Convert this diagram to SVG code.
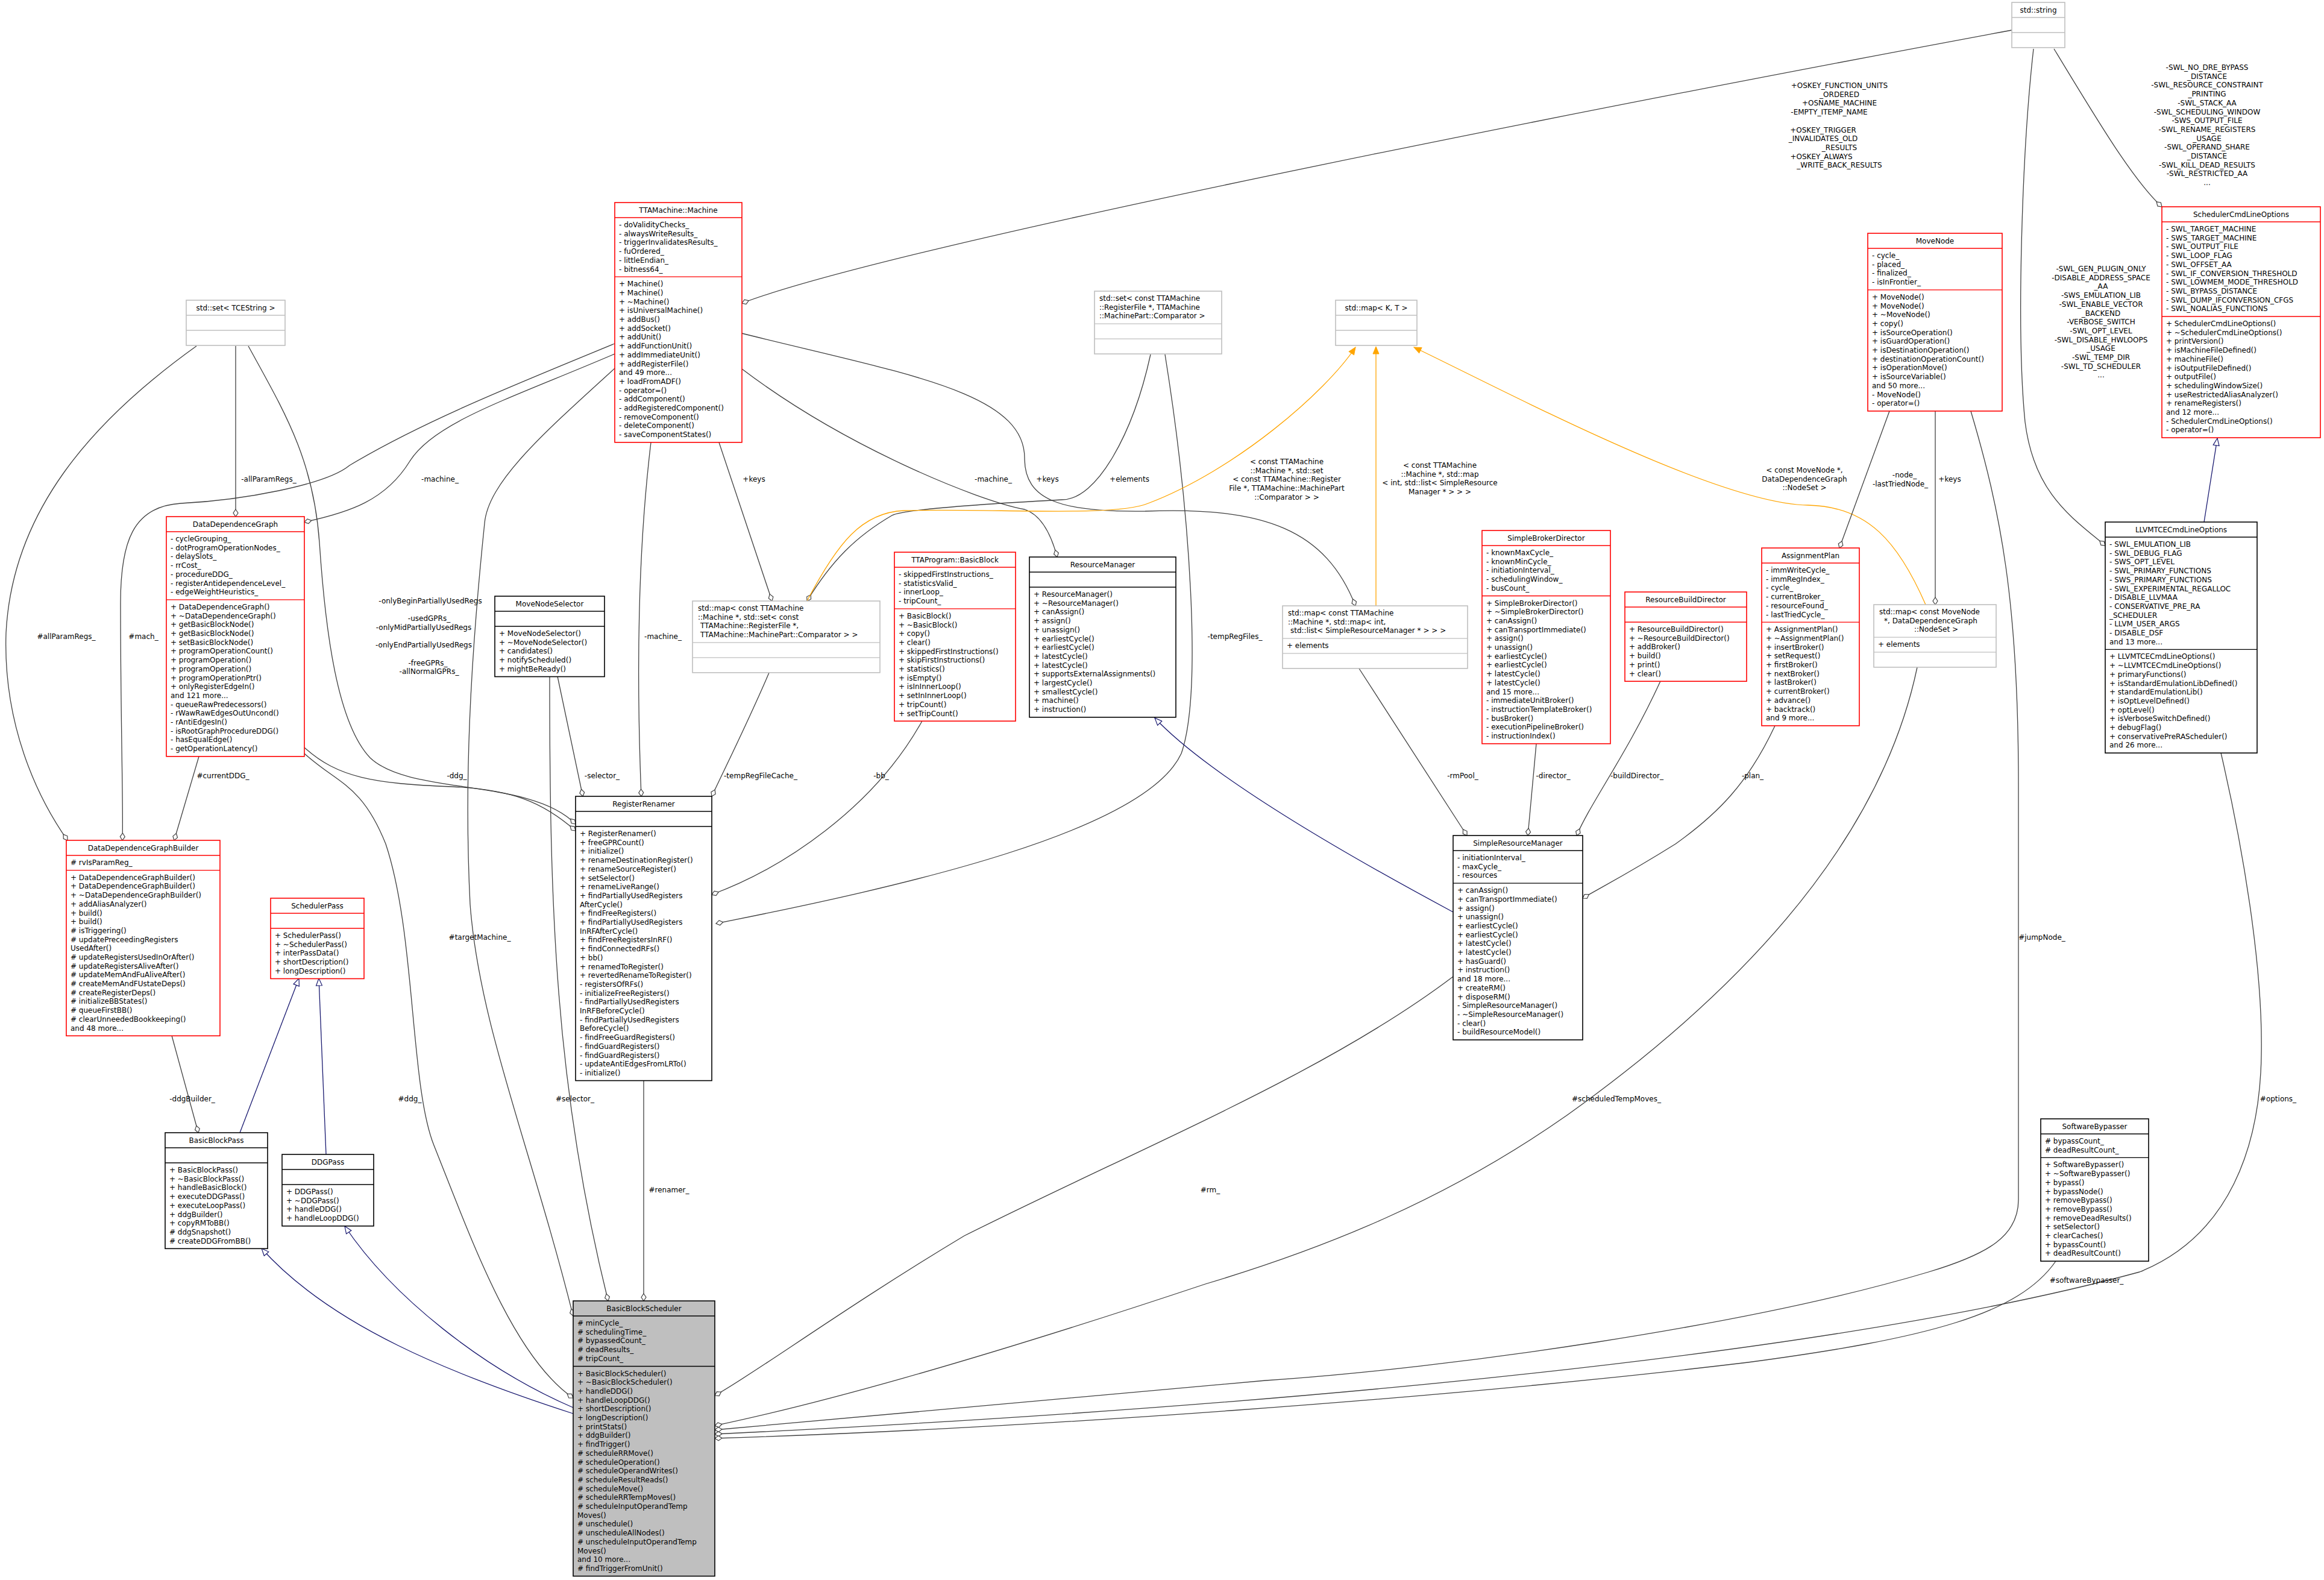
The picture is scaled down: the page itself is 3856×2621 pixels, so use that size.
<svg xmlns="http://www.w3.org/2000/svg" width="3856" height="2621" viewBox="0 0 3856 2621">
<style>
.b{fill:#fff;stroke-width:1.6}
.r{stroke:#ff0000}.g{stroke:#bfbfbf}.k{stroke:#000}
.s{stroke-width:1.3}
text{font-family:"DejaVu Sans","Liberation Sans",sans-serif;font-size:12px;fill:#000}
.h{text-anchor:middle}
.l{text-anchor:middle;font-size:12px}
.e{fill:none;stroke:#404040;stroke-width:1.3}
.i{fill:none;stroke:#191970;stroke-width:1.3}
.o{fill:none;stroke:#ffa500;stroke-width:1.3}
</style>
<defs>
<marker id="d" markerUnits="userSpaceOnUse" markerWidth="14" markerHeight="10" viewBox="-1 -5 14 10" refX="12" refY="0" orient="auto"><path d="M0,0 L6,-4 L12,0 L6,4 Z" fill="#fff" stroke="#404040" stroke-width="1.2"/></marker>
<marker id="t" markerUnits="userSpaceOnUse" markerWidth="14" markerHeight="12" viewBox="-1 -6 14 12" refX="12" refY="0" orient="auto"><path d="M0,-5 L12,0 L0,5 Z" fill="#fff" stroke="#191970" stroke-width="1.2"/></marker>
<marker id="a" markerUnits="userSpaceOnUse" markerWidth="14" markerHeight="12" viewBox="-1 -6 14 12" refX="12" refY="0" orient="auto"><path d="M0,-5 L12,0 L0,5 Z" fill="#ffa500" stroke="#ffa500" stroke-width="1"/></marker>
</defs>
<rect width="3856" height="2621" fill="#fff"/>
<g id="connectors">
<path class="e" marker-end="url(#d)" d="M3338,50 C2800,150 1500,400 1231,503"/>
<path class="e" marker-end="url(#d)" d="M3408,81 C3480,200 3540,300 3587,343"/>
<path class="e" marker-end="url(#d)" d="M3374,81 C3355,250 3345,550 3360,700 C3375,820 3440,860 3493,905"/>
<path class="i" marker-end="url(#t)" d="M3657,866 L3679,727"/>
<path class="e" marker-end="url(#d)" d="M391,574 L391,857"/>
<path class="e" marker-end="url(#d)" d="M326,574 C150,700 20,850 10,1050 C5,1200 60,1320 112,1394"/>
<path class="e" marker-end="url(#d)" d="M412,574 C470,680 520,760 530,900 C540,1050 560,1200 614,1257 C680,1320 880,1290 955,1367"/>
<path class="e" marker-end="url(#d)" d="M1020,587 C850,660 720,700 680,765 C640,830 580,850 505,866"/>
<path class="e" marker-end="url(#d)" d="M1020,570 C850,640 700,700 580,772 C540,805 400,830 300,835 C220,840 200,900 200,1000 C200,1200 205,1350 203,1394"/>
<path class="e" marker-end="url(#d)" d="M1020,611 C900,720 810,800 804,868 C780,1100 770,1300 780,1500 C795,1700 880,1900 951,2183"/>
<path class="e" marker-end="url(#d)" d="M1080,734 C1060,900 1055,1100 1064,1321"/>
<path class="e" marker-end="url(#d)" d="M1193,734 L1281,997"/>
<path class="e" marker-end="url(#d)" d="M1231,612 C1400,740 1620,830 1700,845 C1730,855 1745,890 1754,924"/>
<path class="e" marker-end="url(#d)" d="M1231,553 C1500,620 1700,650 1700,760 C1700,830 1760,850 1900,848 C2100,840 2200,880 2249,1005"/>
<path class="e" marker-end="url(#d)" d="M1909,588 C1880,720 1820,829 1762,829 C1650,835 1500,845 1480,855 C1420,890 1380,930 1339,997"/>
<path class="e" marker-end="url(#d)" d="M1933,588 C1975,850 1995,1150 1960,1250 C1900,1380 1500,1470 1188,1532"/>
<path class="o" marker-end="url(#a)" d="M1339,997 C1390,900 1430,850 1500,847 C1650,843 1850,858 1905,835 C2050,780 2200,650 2249,576"/>
<path class="o" marker-end="url(#a)" d="M2283,1005 L2283,575"/>
<path class="o" marker-end="url(#a)" d="M3195,1003 C3150,900 3100,840 3000,838 C2850,836 2500,650 2346,576"/>
<path class="e" marker-end="url(#d)" d="M3135,682 L3052,909"/>
<path class="e" marker-end="url(#d)" d="M3211,682 L3211,1003"/>
<path class="e" marker-end="url(#d)" d="M3270,682 C3320,850 3349,1000 3349,1300 L3349,1990 C3349,2050 3300,2080 3200,2110 C2900,2200 2400,2270 2100,2290 C1700,2325 1400,2350 1186,2372"/>
<path class="e" marker-end="url(#d)" d="M3685,1249 C3720,1400 3755,1600 3752,1750 C3750,1900 3700,2050 3550,2110 C3000,2260 2000,2340 1186,2379"/>
<path class="e" marker-end="url(#d)" d="M3411,2092 C3350,2180 3200,2220 2900,2260 C2400,2320 1700,2370 1186,2386"/>
<path class="e" marker-end="url(#d)" d="M3181,1107 C3130,1350 2950,1600 2600,1850 C2400,1990 2200,2070 2000,2130 C1700,2230 1400,2320 1186,2365"/>
<path class="e" marker-end="url(#d)" d="M2411,1620 C2200,1780 1900,1900 1600,2050 C1400,2170 1250,2280 1186,2315"/>
<path class="i" marker-end="url(#t)" d="M2411,1513 C2200,1400 2000,1280 1916,1191"/>
<path class="e" marker-end="url(#d)" d="M2255,1109 L2434,1386"/>
<path class="e" marker-end="url(#d)" d="M2549,1234 L2535,1386"/>
<path class="e" marker-end="url(#d)" d="M2755,1130 C2700,1250 2640,1330 2616,1386"/>
<path class="e" marker-end="url(#d)" d="M2945,1204 C2900,1300 2850,1350 2780,1400 C2700,1450 2660,1470 2626,1490"/>
<path class="e" marker-end="url(#d)" d="M1530,1196 C1450,1340 1300,1440 1181,1484"/>
<path class="e" marker-end="url(#d)" d="M1276,1116 C1240,1200 1200,1280 1181,1321"/>
<path class="e" marker-end="url(#d)" d="M925,1122 L967,1321"/>
<path class="e" marker-end="url(#d)" d="M912,1122 C912,1500 920,1800 1009,2158"/>
<path class="e" marker-end="url(#d)" d="M1068,1792 L1068,2158"/>
<path class="e" marker-end="url(#d)" d="M330,1255 L289,1394"/>
<path class="e" marker-end="url(#d)" d="M505,1240 C560,1290 620,1300 750,1305 C850,1310 900,1330 955,1378"/>
<path class="e" marker-end="url(#d)" d="M505,1250 C560,1300 600,1300 640,1400 C690,1550 680,1800 720,1900 C780,2050 850,2250 951,2319"/>
<path class="e" marker-end="url(#d)" d="M285,1718 L329,1879"/>
<path class="i" marker-end="url(#t)" d="M398,1879 L496,1623"/>
<path class="i" marker-end="url(#t)" d="M541,1915 L529,1623"/>
<path class="i" marker-end="url(#t)" d="M951,2345 C750,2280 550,2200 434,2071"/>
<path class="i" marker-end="url(#t)" d="M951,2335 C800,2270 650,2150 572,2034"/>
<text class="l" x="3052" y="146"><tspan x="3052">+OSKEY_FUNCTION_UNITS</tspan><tspan x="3052" dy="14.7">_ORDERED</tspan><tspan x="3052" dy="14.7">+OSNAME_MACHINE</tspan><tspan x="3035" dy="14.7">-EMPTY_ITEMP_NAME</tspan><tspan x="3025" dy="29.4">+OSKEY_TRIGGER</tspan><tspan x="3025" dy="14.7">_INVALIDATES_OLD</tspan><tspan x="3052" dy="14.7">_RESULTS</tspan><tspan x="3022" dy="14.7">+OSKEY_ALWAYS</tspan><tspan x="3052" dy="14.7">_WRITE_BACK_RESULTS</tspan></text>
<text class="l" x="3662" y="116"><tspan x="3662">-SWL_NO_DRE_BYPASS</tspan><tspan x="3662" dy="14.7">_DISTANCE</tspan><tspan x="3662" dy="14.7">-SWL_RESOURCE_CONSTRAINT</tspan><tspan x="3662" dy="14.7">_PRINTING</tspan><tspan x="3662" dy="14.7">-SWL_STACK_AA</tspan><tspan x="3662" dy="14.7">-SWL_SCHEDULING_WINDOW</tspan><tspan x="3662" dy="14.7">-SWS_OUTPUT_FILE</tspan><tspan x="3662" dy="14.7">-SWL_RENAME_REGISTERS</tspan><tspan x="3662" dy="14.7">_USAGE</tspan><tspan x="3662" dy="14.7">-SWL_OPERAND_SHARE</tspan><tspan x="3662" dy="14.7">_DISTANCE</tspan><tspan x="3662" dy="14.7">-SWL_KILL_DEAD_RESULTS</tspan><tspan x="3662" dy="14.7">-SWL_RESTRICTED_AA</tspan><tspan x="3662" dy="14.7">...</tspan></text>
<text class="l" x="3486" y="450"><tspan x="3486">-SWL_GEN_PLUGIN_ONLY</tspan><tspan x="3486" dy="14.7">-DISABLE_ADDRESS_SPACE</tspan><tspan x="3486" dy="14.7">_AA</tspan><tspan x="3486" dy="14.7">-SWS_EMULATION_LIB</tspan><tspan x="3486" dy="14.7">-SWL_ENABLE_VECTOR</tspan><tspan x="3486" dy="14.7">_BACKEND</tspan><tspan x="3486" dy="14.7">-VERBOSE_SWITCH</tspan><tspan x="3486" dy="14.7">-SWL_OPT_LEVEL</tspan><tspan x="3486" dy="14.7">-SWL_DISABLE_HWLOOPS</tspan><tspan x="3486" dy="14.7">_USAGE</tspan><tspan x="3486" dy="14.7">-SWL_TEMP_DIR</tspan><tspan x="3486" dy="14.7">-SWL_TD_SCHEDULER</tspan><tspan x="3486" dy="14.7">...</tspan></text>
<text class="l" x="2135" y="770"><tspan x="2135">&lt; const TTAMachine</tspan><tspan x="2135" dy="14.7">::Machine *, std::set</tspan><tspan x="2135" dy="14.7">&lt; const TTAMachine::Register</tspan><tspan x="2135" dy="14.7">File *, TTAMachine::MachinePart</tspan><tspan x="2135" dy="14.7">::Comparator &gt; &gt;</tspan></text>
<text class="l" x="2389" y="776"><tspan x="2389">&lt; const TTAMachine</tspan><tspan x="2389" dy="14.7">::Machine *, std::map</tspan><tspan x="2389" dy="14.7">&lt; int, std::list&lt; SimpleResource</tspan><tspan x="2389" dy="14.7">Manager * &gt; &gt; &gt;</tspan></text>
<text class="l" x="2994" y="784"><tspan x="2994">&lt; const MoveNode *,</tspan><tspan x="2994" dy="14.7">DataDependenceGraph</tspan><tspan x="2994" dy="14.7">::NodeSet &gt;</tspan></text>
<text class="l" x="3153" y="792"><tspan x="3160">-node_</tspan><tspan x="3153" dy="14.7">-lastTriedNode_</tspan></text>
<text class="l" x="3235" y="799">+keys</text>
<text class="l" x="446" y="799">-allParamRegs_</text>
<text class="l" x="730" y="799">-machine_</text>
<text class="l" x="1251" y="799">+keys</text>
<text class="l" x="1648" y="799">-machine_</text>
<text class="l" x="1738" y="799">+keys</text>
<text class="l" x="1874" y="799">+elements</text>
<text class="l" x="110" y="1060">#allParamRegs_</text>
<text class="l" x="238" y="1060">#mach_</text>
<text class="l" x="1100" y="1060">-machine_</text>
<text class="l" x="2049" y="1060">-tempRegFiles_</text>
<text class="l" x="714" y="1001">-onlyBeginPartiallyUsedRegs</text>
<text class="l" x="712" y="1030">-usedGPRs_</text>
<text class="l" x="703" y="1045">-onlyMidPartiallyUsedRegs</text>
<text class="l" x="703" y="1074">-onlyEndPartiallyUsedRegs</text>
<text class="l" x="710" y="1104">-freeGPRs_</text>
<text class="l" x="712" y="1118">-allNormalGPRs_</text>
<text class="l" x="370" y="1291">#currentDDG_</text>
<text class="l" x="758" y="1291">-ddg_</text>
<text class="l" x="999" y="1291">-selector_</text>
<text class="l" x="1262" y="1291">-tempRegFileCache_</text>
<text class="l" x="1462" y="1291">-bb_</text>
<text class="l" x="2427" y="1291">-rmPool_</text>
<text class="l" x="2577" y="1291">-director_</text>
<text class="l" x="2716" y="1291">-buildDirector_</text>
<text class="l" x="2908" y="1291">-plan_</text>
<text class="l" x="796" y="1559">#targetMachine_</text>
<text class="l" x="3388" y="1559">#jumpNode_</text>
<text class="l" x="319" y="1827">-ddgBuilder_</text>
<text class="l" x="680" y="1827">#ddg_</text>
<text class="l" x="954" y="1827">#selector_</text>
<text class="l" x="2682" y="1827">#scheduledTempMoves_</text>
<text class="l" x="3780" y="1827">#options_</text>
<text class="l" x="1110" y="1978">#renamer_</text>
<text class="l" x="2008" y="1978">#rm_</text>
<text class="l" x="3462" y="2128">#softwareBypasser_</text>
</g>

<g id="Machine"><rect class="b r" x="1020" y="336" width="211" height="397.8"/><line class="r s" x1="1020" y1="361" x2="1231" y2="361"/><line class="r s" x1="1020" y1="459.2" x2="1231" y2="459.2"/><text class="h" x="1125.5" y="353">TTAMachine::Machine</text>
<text x="1027" y="377"><tspan x="1027">- doValidityChecks_</tspan><tspan x="1027" dy="14.7">- alwaysWriteResults_</tspan><tspan x="1027" dy="14.7">- triggerInvalidatesResults_</tspan><tspan x="1027" dy="14.7">- fuOrdered_</tspan><tspan x="1027" dy="14.7">- littleEndian_</tspan><tspan x="1027" dy="14.7">- bitness64_</tspan></text>
<text x="1027" y="475.2"><tspan x="1027">+ Machine()</tspan><tspan x="1027" dy="14.7">+ Machine()</tspan><tspan x="1027" dy="14.7">+ ~Machine()</tspan><tspan x="1027" dy="14.7">+ isUniversalMachine()</tspan><tspan x="1027" dy="14.7">+ addBus()</tspan><tspan x="1027" dy="14.7">+ addSocket()</tspan><tspan x="1027" dy="14.7">+ addUnit()</tspan><tspan x="1027" dy="14.7">+ addFunctionUnit()</tspan><tspan x="1027" dy="14.7">+ addImmediateUnit()</tspan><tspan x="1027" dy="14.7">+ addRegisterFile()</tspan><tspan x="1027" dy="14.7">and 49 more...</tspan><tspan x="1027" dy="14.7">+ loadFromADF()</tspan><tspan x="1027" dy="14.7">- operator=()</tspan><tspan x="1027" dy="14.7">- addComponent()</tspan><tspan x="1027" dy="14.7">- addRegisteredComponent()</tspan><tspan x="1027" dy="14.7">- removeComponent()</tspan><tspan x="1027" dy="14.7">- deleteComponent()</tspan><tspan x="1027" dy="14.7">- saveComponentStates()</tspan></text></g>

<g id="SetTCEString"><rect class="b g" x="309" y="498" width="164" height="75"/><line class="g s" x1="309" y1="523" x2="473" y2="523"/><line class="g s" x1="309" y1="548" x2="473" y2="548"/><text class="h" x="391" y="515">std::set&lt; TCEString &gt;</text></g>

<g id="DataDependenceGraph"><rect class="b r" x="276" y="857" width="229" height="397.8"/><line class="r s" x1="276" y1="882" x2="505" y2="882"/><line class="r s" x1="276" y1="994.9" x2="505" y2="994.9"/><text class="h" x="390.5" y="874">DataDependenceGraph</text>
<text x="283" y="898"><tspan x="283">- cycleGrouping_</tspan><tspan x="283" dy="14.7">- dotProgramOperationNodes_</tspan><tspan x="283" dy="14.7">- delaySlots_</tspan><tspan x="283" dy="14.7">- rrCost_</tspan><tspan x="283" dy="14.7">- procedureDDG_</tspan><tspan x="283" dy="14.7">- registerAntidependenceLevel_</tspan><tspan x="283" dy="14.7">- edgeWeightHeuristics_</tspan></text>
<text x="283" y="1010.9"><tspan x="283">+ DataDependenceGraph()</tspan><tspan x="283" dy="14.7">+ ~DataDependenceGraph()</tspan><tspan x="283" dy="14.7">+ getBasicBlockNode()</tspan><tspan x="283" dy="14.7">+ getBasicBlockNode()</tspan><tspan x="283" dy="14.7">+ setBasicBlockNode()</tspan><tspan x="283" dy="14.7">+ programOperationCount()</tspan><tspan x="283" dy="14.7">+ programOperation()</tspan><tspan x="283" dy="14.7">+ programOperation()</tspan><tspan x="283" dy="14.7">+ programOperationPtr()</tspan><tspan x="283" dy="14.7">+ onlyRegisterEdgeIn()</tspan><tspan x="283" dy="14.7">and 121 more...</tspan><tspan x="283" dy="14.7">- queueRawPredecessors()</tspan><tspan x="283" dy="14.7">- rWawRawEdgesOutUncond()</tspan><tspan x="283" dy="14.7">- rAntiEdgesIn()</tspan><tspan x="283" dy="14.7">- isRootGraphProcedureDDG()</tspan><tspan x="283" dy="14.7">- hasEqualEdge()</tspan><tspan x="283" dy="14.7">- getOperationLatency()</tspan></text></g>

<g id="MoveNodeSelector"><rect class="b k" x="821" y="989" width="182" height="133.5"/><line class="k s" x1="821" y1="1014" x2="1003" y2="1014"/><line class="k s" x1="821" y1="1039" x2="1003" y2="1039"/><text class="h" x="912" y="1006">MoveNodeSelector</text>
<text x="828" y="1055"><tspan x="828">+ MoveNodeSelector()</tspan><tspan x="828" dy="14.7">+ ~MoveNodeSelector()</tspan><tspan x="828" dy="14.7">+ candidates()</tspan><tspan x="828" dy="14.7">+ notifyScheduled()</tspan><tspan x="828" dy="14.7">+ mightBeReady()</tspan></text></g>

<g id="MapTempRegFileCache"><rect class="b g" x="1149" y="997" width="311" height="118.8"/><line class="g s" x1="1149" y1="1065.8" x2="1460" y2="1065.8"/><line class="g s" x1="1149" y1="1090.8" x2="1460" y2="1090.8"/>
<text x="1158" y="1013"><tspan x="1158">std::map&lt; const TTAMachine</tspan><tspan x="1158" dy="14.7">::Machine *, std::set&lt; const</tspan><tspan x="1162" dy="14.7">TTAMachine::RegisterFile *,</tspan><tspan x="1162" dy="14.7">TTAMachine::MachinePart::Comparator &gt; &gt;</tspan></text></g>

<g id="BasicBlock"><rect class="b r" x="1484" y="916" width="201" height="280.2"/><line class="r s" x1="1484" y1="941" x2="1685" y2="941"/><line class="r s" x1="1484" y1="1009.8" x2="1685" y2="1009.8"/><text class="h" x="1584.5" y="933">TTAProgram::BasicBlock</text>
<text x="1491" y="957"><tspan x="1491">- skippedFirstInstructions_</tspan><tspan x="1491" dy="14.7">- statisticsValid_</tspan><tspan x="1491" dy="14.7">- innerLoop_</tspan><tspan x="1491" dy="14.7">- tripCount_</tspan></text>
<text x="1491" y="1025.8"><tspan x="1491">+ BasicBlock()</tspan><tspan x="1491" dy="14.7">+ ~BasicBlock()</tspan><tspan x="1491" dy="14.7">+ copy()</tspan><tspan x="1491" dy="14.7">+ clear()</tspan><tspan x="1491" dy="14.7">+ skippedFirstInstructions()</tspan><tspan x="1491" dy="14.7">+ skipFirstInstructions()</tspan><tspan x="1491" dy="14.7">+ statistics()</tspan><tspan x="1491" dy="14.7">+ isEmpty()</tspan><tspan x="1491" dy="14.7">+ isInInnerLoop()</tspan><tspan x="1491" dy="14.7">+ setInInnerLoop()</tspan><tspan x="1491" dy="14.7">+ tripCount()</tspan><tspan x="1491" dy="14.7">+ setTripCount()</tspan></text></g>

<g id="ResourceManager"><rect class="b k" x="1708" y="924" width="243" height="265.8"/><line class="k s" x1="1708" y1="949" x2="1951" y2="949"/><line class="k s" x1="1708" y1="974" x2="1951" y2="974"/><text class="h" x="1829.5" y="941">ResourceManager</text>
<text x="1715" y="990"><tspan x="1715">+ ResourceManager()</tspan><tspan x="1715" dy="14.7">+ ~ResourceManager()</tspan><tspan x="1715" dy="14.7">+ canAssign()</tspan><tspan x="1715" dy="14.7">+ assign()</tspan><tspan x="1715" dy="14.7">+ unassign()</tspan><tspan x="1715" dy="14.7">+ earliestCycle()</tspan><tspan x="1715" dy="14.7">+ earliestCycle()</tspan><tspan x="1715" dy="14.7">+ latestCycle()</tspan><tspan x="1715" dy="14.7">+ latestCycle()</tspan><tspan x="1715" dy="14.7">+ supportsExternalAssignments()</tspan><tspan x="1715" dy="14.7">+ largestCycle()</tspan><tspan x="1715" dy="14.7">+ smallestCycle()</tspan><tspan x="1715" dy="14.7">+ machine()</tspan><tspan x="1715" dy="14.7">+ instruction()</tspan></text></g>

<g id="SetRegisterFile"><rect class="b g" x="1816" y="483" width="211" height="104.1"/><line class="g s" x1="1816" y1="537.1" x2="2027" y2="537.1"/><line class="g s" x1="1816" y1="562.1" x2="2027" y2="562.1"/>
<text x="1824" y="499"><tspan x="1824">std::set&lt; const TTAMachine</tspan><tspan x="1824" dy="14.7">::RegisterFile *, TTAMachine</tspan><tspan x="1824" dy="14.7">::MachinePart::Comparator &gt;</tspan></text></g>

<g id="StdString"><rect class="b g" x="3338" y="4" width="88" height="75"/><line class="g s" x1="3338" y1="29" x2="3426" y2="29"/><line class="g s" x1="3338" y1="54" x2="3426" y2="54"/><text class="h" x="3382" y="21">std::string</text></g>

<g id="MapKT"><rect class="b g" x="2216" y="498" width="135" height="75"/><line class="g s" x1="2216" y1="523" x2="2351" y2="523"/><line class="g s" x1="2216" y1="548" x2="2351" y2="548"/><text class="h" x="2283.5" y="515">std::map&lt; K, T &gt;</text></g>

<g id="MoveNode"><rect class="b r" x="3099" y="387" width="223" height="294.9"/><line class="r s" x1="3099" y1="412" x2="3322" y2="412"/><line class="r s" x1="3099" y1="480.8" x2="3322" y2="480.8"/><text class="h" x="3210.5" y="404">MoveNode</text>
<text x="3106" y="428"><tspan x="3106">- cycle_</tspan><tspan x="3106" dy="14.7">- placed_</tspan><tspan x="3106" dy="14.7">- finalized_</tspan><tspan x="3106" dy="14.7">- isInFrontier_</tspan></text>
<text x="3106" y="496.8"><tspan x="3106">+ MoveNode()</tspan><tspan x="3106" dy="14.7">+ MoveNode()</tspan><tspan x="3106" dy="14.7">+ ~MoveNode()</tspan><tspan x="3106" dy="14.7">+ copy()</tspan><tspan x="3106" dy="14.7">+ isSourceOperation()</tspan><tspan x="3106" dy="14.7">+ isGuardOperation()</tspan><tspan x="3106" dy="14.7">+ isDestinationOperation()</tspan><tspan x="3106" dy="14.7">+ destinationOperationCount()</tspan><tspan x="3106" dy="14.7">+ isOperationMove()</tspan><tspan x="3106" dy="14.7">+ isSourceVariable()</tspan><tspan x="3106" dy="14.7">and 50 more...</tspan><tspan x="3106" dy="14.7">- MoveNode()</tspan><tspan x="3106" dy="14.7">- operator=()</tspan></text></g>

<g id="SchedulerCmdLineOptions"><rect class="b r" x="3587" y="343" width="263" height="383.1"/><line class="r s" x1="3587" y1="368" x2="3850" y2="368"/><line class="r s" x1="3587" y1="525" x2="3850" y2="525"/><text class="h" x="3718.5" y="360">SchedulerCmdLineOptions</text>
<text x="3594" y="384"><tspan x="3594">- SWL_TARGET_MACHINE</tspan><tspan x="3594" dy="14.7">- SWS_TARGET_MACHINE</tspan><tspan x="3594" dy="14.7">- SWL_OUTPUT_FILE</tspan><tspan x="3594" dy="14.7">- SWL_LOOP_FLAG</tspan><tspan x="3594" dy="14.7">- SWL_OFFSET_AA</tspan><tspan x="3594" dy="14.7">- SWL_IF_CONVERSION_THRESHOLD</tspan><tspan x="3594" dy="14.7">- SWL_LOWMEM_MODE_THRESHOLD</tspan><tspan x="3594" dy="14.7">- SWL_BYPASS_DISTANCE</tspan><tspan x="3594" dy="14.7">- SWL_DUMP_IFCONVERSION_CFGS</tspan><tspan x="3594" dy="14.7">- SWL_NOALIAS_FUNCTIONS</tspan></text>
<text x="3594" y="541"><tspan x="3594">+ SchedulerCmdLineOptions()</tspan><tspan x="3594" dy="14.7">+ ~SchedulerCmdLineOptions()</tspan><tspan x="3594" dy="14.7">+ printVersion()</tspan><tspan x="3594" dy="14.7">+ isMachineFileDefined()</tspan><tspan x="3594" dy="14.7">+ machineFile()</tspan><tspan x="3594" dy="14.7">+ isOutputFileDefined()</tspan><tspan x="3594" dy="14.7">+ outputFile()</tspan><tspan x="3594" dy="14.7">+ schedulingWindowSize()</tspan><tspan x="3594" dy="14.7">+ useRestrictedAliasAnalyzer()</tspan><tspan x="3594" dy="14.7">+ renameRegisters()</tspan><tspan x="3594" dy="14.7">and 12 more...</tspan><tspan x="3594" dy="14.7">- SchedulerCmdLineOptions()</tspan><tspan x="3594" dy="14.7">- operator=()</tspan></text></g>

<g id="LLVMTCECmdLineOptions"><rect class="b k" x="3493" y="866" width="252" height="383.1"/><line class="k s" x1="3493" y1="891" x2="3745" y2="891"/><line class="k s" x1="3493" y1="1077.4" x2="3745" y2="1077.4"/><text class="h" x="3619" y="883">LLVMTCECmdLineOptions</text>
<text x="3500" y="907"><tspan x="3500">- SWL_EMULATION_LIB</tspan><tspan x="3500" dy="14.7">- SWL_DEBUG_FLAG</tspan><tspan x="3500" dy="14.7">- SWS_OPT_LEVEL</tspan><tspan x="3500" dy="14.7">- SWL_PRIMARY_FUNCTIONS</tspan><tspan x="3500" dy="14.7">- SWS_PRIMARY_FUNCTIONS</tspan><tspan x="3500" dy="14.7">- SWL_EXPERIMENTAL_REGALLOC</tspan><tspan x="3500" dy="14.7">- DISABLE_LLVMAA</tspan><tspan x="3500" dy="14.7">- CONSERVATIVE_PRE_RA</tspan><tspan x="3500" dy="14.7">_SCHEDULER</tspan><tspan x="3500" dy="14.7">- LLVM_USER_ARGS</tspan><tspan x="3500" dy="14.7">- DISABLE_DSF</tspan><tspan x="3500" dy="14.7">and 13 more...</tspan></text>
<text x="3500" y="1093.4"><tspan x="3500">+ LLVMTCECmdLineOptions()</tspan><tspan x="3500" dy="14.7">+ ~LLVMTCECmdLineOptions()</tspan><tspan x="3500" dy="14.7">+ primaryFunctions()</tspan><tspan x="3500" dy="14.7">+ isStandardEmulationLibDefined()</tspan><tspan x="3500" dy="14.7">+ standardEmulationLib()</tspan><tspan x="3500" dy="14.7">+ isOptLevelDefined()</tspan><tspan x="3500" dy="14.7">+ optLevel()</tspan><tspan x="3500" dy="14.7">+ isVerboseSwitchDefined()</tspan><tspan x="3500" dy="14.7">+ debugFlag()</tspan><tspan x="3500" dy="14.7">+ conservativePreRAScheduler()</tspan><tspan x="3500" dy="14.7">and 26 more...</tspan></text></g>

<g id="MapRmPool"><rect class="b g" x="2128" y="1005" width="307" height="103.8"/><line class="g s" x1="2128" y1="1059.1" x2="2435" y2="1059.1"/><line class="g s" x1="2128" y1="1083.8" x2="2435" y2="1083.8"/>
<text x="2137" y="1021"><tspan x="2137">std::map&lt; const TTAMachine</tspan><tspan x="2137" dy="14.7">::Machine *, std::map&lt; int,</tspan><tspan x="2141" dy="14.7">std::list&lt; SimpleResourceManager * &gt; &gt; &gt;</tspan></text>
<text x="2135" y="1075.1">+ elements</text></g>

<g id="SimpleBrokerDirector"><rect class="b r" x="2459" y="880" width="213" height="353.7"/><line class="r s" x1="2459" y1="905" x2="2672" y2="905"/><line class="r s" x1="2459" y1="988.5" x2="2672" y2="988.5"/><text class="h" x="2565.5" y="897">SimpleBrokerDirector</text>
<text x="2466" y="921"><tspan x="2466">- knownMaxCycle_</tspan><tspan x="2466" dy="14.7">- knownMinCycle_</tspan><tspan x="2466" dy="14.7">- initiationInterval_</tspan><tspan x="2466" dy="14.7">- schedulingWindow_</tspan><tspan x="2466" dy="14.7">- busCount_</tspan></text>
<text x="2466" y="1004.5"><tspan x="2466">+ SimpleBrokerDirector()</tspan><tspan x="2466" dy="14.7">+ ~SimpleBrokerDirector()</tspan><tspan x="2466" dy="14.7">+ canAssign()</tspan><tspan x="2466" dy="14.7">+ canTransportImmediate()</tspan><tspan x="2466" dy="14.7">+ assign()</tspan><tspan x="2466" dy="14.7">+ unassign()</tspan><tspan x="2466" dy="14.7">+ earliestCycle()</tspan><tspan x="2466" dy="14.7">+ earliestCycle()</tspan><tspan x="2466" dy="14.7">+ latestCycle()</tspan><tspan x="2466" dy="14.7">+ latestCycle()</tspan><tspan x="2466" dy="14.7">and 15 more...</tspan><tspan x="2466" dy="14.7">- immediateUnitBroker()</tspan><tspan x="2466" dy="14.7">- instructionTemplateBroker()</tspan><tspan x="2466" dy="14.7">- busBroker()</tspan><tspan x="2466" dy="14.7">- executionPipelineBroker()</tspan><tspan x="2466" dy="14.7">- instructionIndex()</tspan></text></g>

<g id="ResourceBuildDirector"><rect class="b r" x="2696" y="982" width="202" height="148.2"/><line class="r s" x1="2696" y1="1007" x2="2898" y2="1007"/><line class="r s" x1="2696" y1="1032" x2="2898" y2="1032"/><text class="h" x="2797" y="999">ResourceBuildDirector</text>
<text x="2703" y="1048"><tspan x="2703">+ ResourceBuildDirector()</tspan><tspan x="2703" dy="14.7">+ ~ResourceBuildDirector()</tspan><tspan x="2703" dy="14.7">+ addBroker()</tspan><tspan x="2703" dy="14.7">+ build()</tspan><tspan x="2703" dy="14.7">+ print()</tspan><tspan x="2703" dy="14.7">+ clear()</tspan></text></g>

<g id="AssignmentPlan"><rect class="b r" x="2923" y="909" width="162" height="294.9"/><line class="r s" x1="2923" y1="934" x2="3085" y2="934"/><line class="r s" x1="2923" y1="1032.2" x2="3085" y2="1032.2"/><text class="h" x="3004" y="926">AssignmentPlan</text>
<text x="2930" y="950"><tspan x="2930">- immWriteCycle_</tspan><tspan x="2930" dy="14.7">- immRegIndex_</tspan><tspan x="2930" dy="14.7">- cycle_</tspan><tspan x="2930" dy="14.7">- currentBroker_</tspan><tspan x="2930" dy="14.7">- resourceFound_</tspan><tspan x="2930" dy="14.7">- lastTriedCycle_</tspan></text>
<text x="2930" y="1048.2"><tspan x="2930">+ AssignmentPlan()</tspan><tspan x="2930" dy="14.7">+ ~AssignmentPlan()</tspan><tspan x="2930" dy="14.7">+ insertBroker()</tspan><tspan x="2930" dy="14.7">+ setRequest()</tspan><tspan x="2930" dy="14.7">+ firstBroker()</tspan><tspan x="2930" dy="14.7">+ nextBroker()</tspan><tspan x="2930" dy="14.7">+ lastBroker()</tspan><tspan x="2930" dy="14.7">+ currentBroker()</tspan><tspan x="2930" dy="14.7">+ advance()</tspan><tspan x="2930" dy="14.7">+ backtrack()</tspan><tspan x="2930" dy="14.7">and 9 more...</tspan></text></g>

<g id="MapNodeSet"><rect class="b g" x="3109" y="1003" width="203" height="103.8"/><line class="g s" x1="3109" y1="1057.1" x2="3312" y2="1057.1"/><line class="g s" x1="3109" y1="1081.8" x2="3312" y2="1081.8"/>
<text x="3118" y="1019"><tspan x="3118">std::map&lt; const MoveNode</tspan><tspan x="3126" dy="14.7">*, DataDependenceGraph</tspan><tspan x="3176" dy="14.7">::NodeSet &gt;</tspan></text>
<text x="3116" y="1073.1">+ elements</text></g>

<g id="RegisterRenamer"><rect class="b k" x="955" y="1321" width="226" height="471.6"/><line class="k s" x1="955" y1="1346" x2="1181" y2="1346"/><line class="k s" x1="955" y1="1371" x2="1181" y2="1371"/><text class="h" x="1068" y="1338">RegisterRenamer</text>
<text x="962" y="1387"><tspan x="962">+ RegisterRenamer()</tspan><tspan x="962" dy="14.7">+ freeGPRCount()</tspan><tspan x="962" dy="14.7">+ initialize()</tspan><tspan x="962" dy="14.7">+ renameDestinationRegister()</tspan><tspan x="962" dy="14.7">+ renameSourceRegister()</tspan><tspan x="962" dy="14.7">+ setSelector()</tspan><tspan x="962" dy="14.7">+ renameLiveRange()</tspan><tspan x="962" dy="14.7">+ findPartiallyUsedRegisters</tspan><tspan x="962" dy="14.7">AfterCycle()</tspan><tspan x="962" dy="14.7">+ findFreeRegisters()</tspan><tspan x="962" dy="14.7">+ findPartiallyUsedRegisters</tspan><tspan x="962" dy="14.7">InRFAfterCycle()</tspan><tspan x="962" dy="14.7">+ findFreeRegistersInRF()</tspan><tspan x="962" dy="14.7">+ findConnectedRFs()</tspan><tspan x="962" dy="14.7">+ bb()</tspan><tspan x="962" dy="14.7">+ renamedToRegister()</tspan><tspan x="962" dy="14.7">+ revertedRenameToRegister()</tspan><tspan x="962" dy="14.7">- registersOfRFs()</tspan><tspan x="962" dy="14.7">- initializeFreeRegisters()</tspan><tspan x="962" dy="14.7">- findPartiallyUsedRegisters</tspan><tspan x="962" dy="14.7">InRFBeforeCycle()</tspan><tspan x="962" dy="14.7">- findPartiallyUsedRegisters</tspan><tspan x="962" dy="14.7">BeforeCycle()</tspan><tspan x="962" dy="14.7">- findFreeGuardRegisters()</tspan><tspan x="962" dy="14.7">- findGuardRegisters()</tspan><tspan x="962" dy="14.7">- findGuardRegisters()</tspan><tspan x="962" dy="14.7">- updateAntiEdgesFromLRTo()</tspan><tspan x="962" dy="14.7">- initialize()</tspan></text></g>

<g id="DataDependenceGraphBuilder"><rect class="b r" x="110" y="1394" width="255" height="324.3"/><line class="r s" x1="110" y1="1419" x2="365" y2="1419"/><line class="r s" x1="110" y1="1443.7" x2="365" y2="1443.7"/><text class="h" x="237.5" y="1411">DataDependenceGraphBuilder</text>
<text x="117" y="1435"># rvIsParamReg_</text>
<text x="117" y="1459.7"><tspan x="117">+ DataDependenceGraphBuilder()</tspan><tspan x="117" dy="14.7">+ DataDependenceGraphBuilder()</tspan><tspan x="117" dy="14.7">+ ~DataDependenceGraphBuilder()</tspan><tspan x="117" dy="14.7">+ addAliasAnalyzer()</tspan><tspan x="117" dy="14.7">+ build()</tspan><tspan x="117" dy="14.7">+ build()</tspan><tspan x="117" dy="14.7"># isTriggering()</tspan><tspan x="117" dy="14.7"># updatePreceedingRegisters</tspan><tspan x="117" dy="14.7">UsedAfter()</tspan><tspan x="117" dy="14.7"># updateRegistersUsedInOrAfter()</tspan><tspan x="117" dy="14.7"># updateRegistersAliveAfter()</tspan><tspan x="117" dy="14.7"># updateMemAndFuAliveAfter()</tspan><tspan x="117" dy="14.7"># createMemAndFUstateDeps()</tspan><tspan x="117" dy="14.7"># createRegisterDeps()</tspan><tspan x="117" dy="14.7"># initializeBBStates()</tspan><tspan x="117" dy="14.7"># queueFirstBB()</tspan><tspan x="117" dy="14.7"># clearUnneededBookkeeping()</tspan><tspan x="117" dy="14.7">and 48 more...</tspan></text></g>

<g id="SchedulerPass"><rect class="b r" x="449" y="1490" width="155" height="133.5"/><line class="r s" x1="449" y1="1515" x2="604" y2="1515"/><line class="r s" x1="449" y1="1540" x2="604" y2="1540"/><text class="h" x="526.5" y="1507">SchedulerPass</text>
<text x="456" y="1556"><tspan x="456">+ SchedulerPass()</tspan><tspan x="456" dy="14.7">+ ~SchedulerPass()</tspan><tspan x="456" dy="14.7">+ interPassData()</tspan><tspan x="456" dy="14.7">+ shortDescription()</tspan><tspan x="456" dy="14.7">+ longDescription()</tspan></text></g>

<g id="BasicBlockPass"><rect class="b k" x="274" y="1879" width="170" height="192.3"/><line class="k s" x1="274" y1="1904" x2="444" y2="1904"/><line class="k s" x1="274" y1="1929" x2="444" y2="1929"/><text class="h" x="359" y="1896">BasicBlockPass</text>
<text x="281" y="1945"><tspan x="281">+ BasicBlockPass()</tspan><tspan x="281" dy="14.7">+ ~BasicBlockPass()</tspan><tspan x="281" dy="14.7">+ handleBasicBlock()</tspan><tspan x="281" dy="14.7">+ executeDDGPass()</tspan><tspan x="281" dy="14.7">+ executeLoopPass()</tspan><tspan x="281" dy="14.7">+ ddgBuilder()</tspan><tspan x="281" dy="14.7">+ copyRMToBB()</tspan><tspan x="281" dy="14.7"># ddgSnapshot()</tspan><tspan x="281" dy="14.7"># createDDGFromBB()</tspan></text></g>

<g id="DDGPass"><rect class="b k" x="468" y="1915" width="152" height="118.8"/><line class="k s" x1="468" y1="1940" x2="620" y2="1940"/><line class="k s" x1="468" y1="1965" x2="620" y2="1965"/><text class="h" x="544" y="1932">DDGPass</text>
<text x="475" y="1981"><tspan x="475">+ DDGPass()</tspan><tspan x="475" dy="14.7">+ ~DDGPass()</tspan><tspan x="475" dy="14.7">+ handleDDG()</tspan><tspan x="475" dy="14.7">+ handleLoopDDG()</tspan></text></g>

<g id="BasicBlockScheduler"><rect class="k" x="951" y="2158" width="235" height="456.6" fill="#bfbfbf" stroke-width="1.6"/><line class="k s" x1="951" y1="2183" x2="1186" y2="2183"/><line class="k s" x1="951" y1="2266.5" x2="1186" y2="2266.5"/><text class="h" x="1068.5" y="2175">BasicBlockScheduler</text>
<text x="958" y="2199"><tspan x="958"># minCycle_</tspan><tspan x="958" dy="14.7"># schedulingTime_</tspan><tspan x="958" dy="14.7"># bypassedCount_</tspan><tspan x="958" dy="14.7"># deadResults_</tspan><tspan x="958" dy="14.7"># tripCount_</tspan></text>
<text x="958" y="2282.5"><tspan x="958">+ BasicBlockScheduler()</tspan><tspan x="958" dy="14.7">+ ~BasicBlockScheduler()</tspan><tspan x="958" dy="14.7">+ handleDDG()</tspan><tspan x="958" dy="14.7">+ handleLoopDDG()</tspan><tspan x="958" dy="14.7">+ shortDescription()</tspan><tspan x="958" dy="14.7">+ longDescription()</tspan><tspan x="958" dy="14.7">+ printStats()</tspan><tspan x="958" dy="14.7">+ ddgBuilder()</tspan><tspan x="958" dy="14.7">+ findTrigger()</tspan><tspan x="958" dy="14.7"># scheduleRRMove()</tspan><tspan x="958" dy="14.7"># scheduleOperation()</tspan><tspan x="958" dy="14.7"># scheduleOperandWrites()</tspan><tspan x="958" dy="14.7"># scheduleResultReads()</tspan><tspan x="958" dy="14.7"># scheduleMove()</tspan><tspan x="958" dy="14.7"># scheduleRRTempMoves()</tspan><tspan x="958" dy="14.7"># scheduleInputOperandTemp</tspan><tspan x="958" dy="14.7">Moves()</tspan><tspan x="958" dy="14.7"># unschedule()</tspan><tspan x="958" dy="14.7"># unscheduleAllNodes()</tspan><tspan x="958" dy="14.7"># unscheduleInputOperandTemp</tspan><tspan x="958" dy="14.7">Moves()</tspan><tspan x="958" dy="14.7">and 10 more...</tspan><tspan x="958" dy="14.7"># findTriggerFromUnit()</tspan></text></g>

<g id="SimpleResourceManager"><rect class="b k" x="2411" y="1386" width="215" height="339"/><line class="k s" x1="2411" y1="1411" x2="2626" y2="1411"/><line class="k s" x1="2411" y1="1465.1" x2="2626" y2="1465.1"/><text class="h" x="2518.5" y="1403">SimpleResourceManager</text>
<text x="2418" y="1427"><tspan x="2418">- initiationInterval_</tspan><tspan x="2418" dy="14.7">- maxCycle_</tspan><tspan x="2418" dy="14.7">- resources</tspan></text>
<text x="2418" y="1481.1"><tspan x="2418">+ canAssign()</tspan><tspan x="2418" dy="14.7">+ canTransportImmediate()</tspan><tspan x="2418" dy="14.7">+ assign()</tspan><tspan x="2418" dy="14.7">+ unassign()</tspan><tspan x="2418" dy="14.7">+ earliestCycle()</tspan><tspan x="2418" dy="14.7">+ earliestCycle()</tspan><tspan x="2418" dy="14.7">+ latestCycle()</tspan><tspan x="2418" dy="14.7">+ latestCycle()</tspan><tspan x="2418" dy="14.7">+ hasGuard()</tspan><tspan x="2418" dy="14.7">+ instruction()</tspan><tspan x="2418" dy="14.7">and 18 more...</tspan><tspan x="2418" dy="14.7">+ createRM()</tspan><tspan x="2418" dy="14.7">+ disposeRM()</tspan><tspan x="2418" dy="14.7">- SimpleResourceManager()</tspan><tspan x="2418" dy="14.7">- ~SimpleResourceManager()</tspan><tspan x="2418" dy="14.7">- clear()</tspan><tspan x="2418" dy="14.7">- buildResourceModel()</tspan></text></g>

<g id="SoftwareBypasser"><rect class="b k" x="3386" y="1856" width="179" height="236.1"/><line class="k s" x1="3386" y1="1881" x2="3565" y2="1881"/><line class="k s" x1="3386" y1="1920.4" x2="3565" y2="1920.4"/><text class="h" x="3475.5" y="1873">SoftwareBypasser</text>
<text x="3393" y="1897"><tspan x="3393"># bypassCount_</tspan><tspan x="3393" dy="14.7"># deadResultCount_</tspan></text>
<text x="3393" y="1936.4"><tspan x="3393">+ SoftwareBypasser()</tspan><tspan x="3393" dy="14.7">+ ~SoftwareBypasser()</tspan><tspan x="3393" dy="14.7">+ bypass()</tspan><tspan x="3393" dy="14.7">+ bypassNode()</tspan><tspan x="3393" dy="14.7">+ removeBypass()</tspan><tspan x="3393" dy="14.7">+ removeBypass()</tspan><tspan x="3393" dy="14.7">+ removeDeadResults()</tspan><tspan x="3393" dy="14.7">+ setSelector()</tspan><tspan x="3393" dy="14.7">+ clearCaches()</tspan><tspan x="3393" dy="14.7">+ bypassCount()</tspan><tspan x="3393" dy="14.7">+ deadResultCount()</tspan></text></g>
</svg>
